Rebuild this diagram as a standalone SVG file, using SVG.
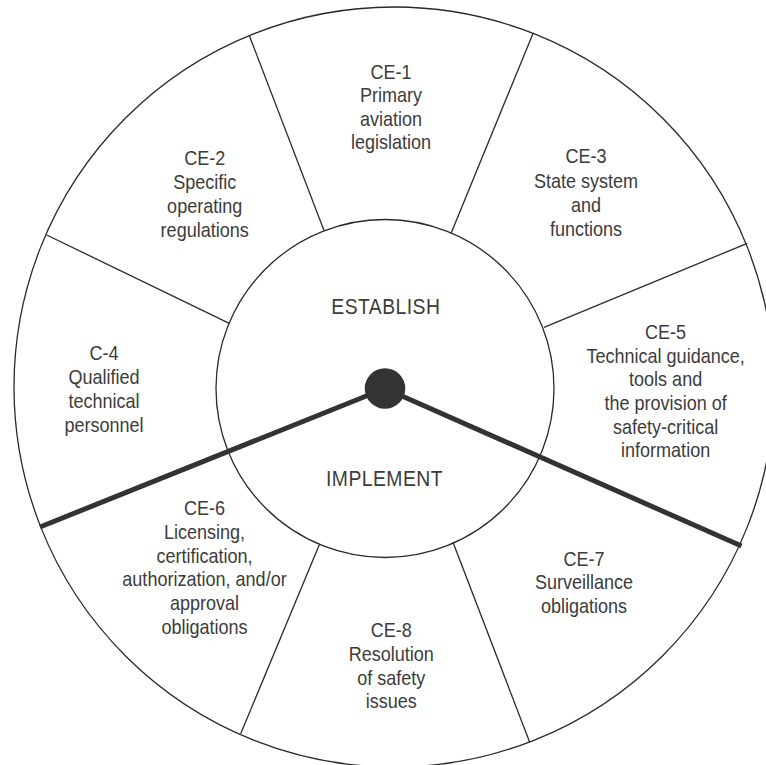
<svg xmlns="http://www.w3.org/2000/svg" width="766" height="765" viewBox="0 0 766 765">
<style>
  .bg { fill: #ffffff; }
  .ring { fill: none; stroke: #2a2a2a; stroke-width: 1.3; }
  .div { stroke: #2a2a2a; stroke-width: 1.3; fill: none; }
  .hand { stroke: #333333; stroke-width: 5; fill: none; stroke-linecap: butt; }
  .hub { fill: #333333; }
  .lbl { font-family: "Liberation Sans", Arial, sans-serif; font-size: 20.5px; fill: #3c3c3c; text-anchor: middle; }
  .big { font-family: "Liberation Sans", Arial, sans-serif; font-size: 22px; letter-spacing: 0.5px; fill: #3c3c3c; text-anchor: middle; }
</style>
<rect class="bg" x="0" y="0" width="766" height="765"/>
<g id="wheel">
  <circle class="ring" cx="394" cy="387" r="380"/>
  <circle class="ring" cx="385" cy="388.5" r="169"/>
</g>
<g id="connectors">
  <line class="div" x1="249.3" y1="35.5" x2="324" y2="230.5"/>
  <line class="div" x1="533" y1="33.5" x2="451.3" y2="232.7"/>
  <line class="div" x1="46.7" y1="235" x2="229.3" y2="323.3"/>
  <line class="div" x1="747.3" y1="243.3" x2="544" y2="327.3"/>
  <line class="div" x1="240.7" y1="733.7" x2="319.3" y2="544.7"/>
  <line class="div" x1="529.7" y1="742.3" x2="453" y2="542.3"/>
  <line class="hand" x1="385" y1="388.5" x2="40" y2="527"/>
  <line class="hand" x1="385" y1="388.5" x2="741.5" y2="546"/>
  <circle class="hub" cx="385" cy="388.5" r="20.3"/>
</g>
<g id="establish" transform="translate(385.8,0) scale(0.88,1)">
  <text class="big" x="0" y="314">ESTABLISH</text>
</g>
<g id="implement" transform="translate(384.5,0) scale(0.88,1)">
  <text class="big" x="0" y="486">IMPLEMENT</text>
</g>
<g id="ce1" transform="translate(391,0) scale(0.88,1)">
  <text class="lbl" x="0" y="79">CE-1</text>
  <text class="lbl" x="0" y="102.5">Primary</text>
  <text class="lbl" x="0" y="126">aviation</text>
  <text class="lbl" x="0" y="149.5">legislation</text>
</g>
<g id="ce2" transform="translate(204.7,0) scale(0.88,1)">
  <text class="lbl" x="0" y="165.5">CE-2</text>
  <text class="lbl" x="0" y="189.5">Specific</text>
  <text class="lbl" x="0" y="213">operating</text>
  <text class="lbl" x="0" y="237">regulations</text>
</g>
<g id="ce3" transform="translate(586,0) scale(0.88,1)">
  <text class="lbl" x="0" y="163.5">CE-3</text>
  <text class="lbl" x="0" y="188">State system</text>
  <text class="lbl" x="0" y="211.7">and</text>
  <text class="lbl" x="0" y="236">functions</text>
</g>
<g id="c4" transform="translate(104,0) scale(0.88,1)">
  <text class="lbl" x="0" y="360">C-4</text>
  <text class="lbl" x="0" y="384">Qualified</text>
  <text class="lbl" x="0" y="408">technical</text>
  <text class="lbl" x="0" y="432">personnel</text>
</g>
<g id="ce5" transform="translate(665.6,0) scale(0.88,1)">
  <text class="lbl" x="0" y="339">CE-5</text>
  <text class="lbl" x="0" y="362.7">Technical guidance,</text>
  <text class="lbl" x="0" y="386">tools and</text>
  <text class="lbl" x="0" y="410">the provision of</text>
  <text class="lbl" x="0" y="434">safety-critical</text>
  <text class="lbl" x="0" y="457.3">information</text>
</g>
<g id="ce6" transform="translate(204.5,0) scale(0.88,1)">
  <text class="lbl" x="0" y="514.7">CE-6</text>
  <text class="lbl" x="0" y="539.5">Licensing,</text>
  <text class="lbl" x="0" y="563">certification,</text>
  <text class="lbl" x="0" y="586.5">authorization, and/or</text>
  <text class="lbl" x="0" y="610.3">approval</text>
  <text class="lbl" x="0" y="633.7">obligations</text>
</g>
<g id="ce7" transform="translate(584,0) scale(0.88,1)">
  <text class="lbl" x="0" y="565.7">CE-7</text>
  <text class="lbl" x="0" y="589.5">Surveillance</text>
  <text class="lbl" x="0" y="613">obligations</text>
</g>
<g id="ce8" transform="translate(391.3,0) scale(0.88,1)">
  <text class="lbl" x="0" y="637">CE-8</text>
  <text class="lbl" x="0" y="661">Resolution</text>
  <text class="lbl" x="0" y="684.7">of safety</text>
  <text class="lbl" x="0" y="708">issues</text>
</g>
</svg>
